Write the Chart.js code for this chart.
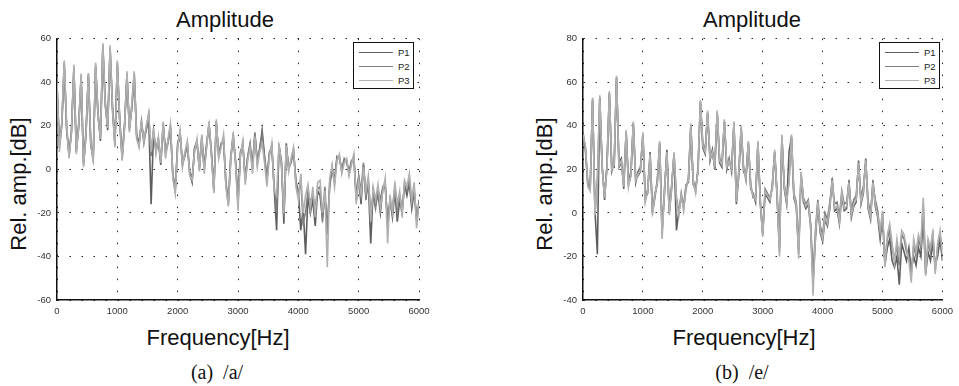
<!DOCTYPE html>
<html>
<head>
<meta charset="utf-8">
<script src="https://cdn.jsdelivr.net/npm/chart.js@4.4.0/dist/chart.umd.min.js"></script>
<style>
  body { margin:0; background:#fff; width:959px; height:386px; position:relative; overflow:hidden;
         font-family:"Liberation Sans", Arial, sans-serif; color:#111; }
  .box { position:absolute; }
  .txt { position:absolute; white-space:nowrap; transform:translate(-50%,-50%); line-height:1; }
  .big { font-size:22px; }
  .ylab { transform:translate(-50%,-50%) rotate(-90deg); }
  .cap { font-family:"Liberation Serif", "Times New Roman", serif; font-size:20px; }
  .leg { position:absolute; border:1.5px solid #111; background:#fff; box-sizing:border-box; width:61px; height:47px; }
  .row { position:absolute; left:5px; height:12px; font-size:9.5px; color:#222; }
  .row i { position:absolute; left:0; top:6px; width:34px; border-top:1.5px solid; }
  .row span { position:absolute; left:39px; top:1px; }
</style>
</head>
<body>

<div class="txt big" style="left:225px; top:20px;">Amplitude</div>
<div class="txt big ylab" style="left:19px; top:184px;">Rel. amp.[dB]</div>
<div class="txt big" style="left:218px; top:338px;">Frequency[Hz]</div>
<div class="txt cap" style="left:217px; top:372px;">(a)&ensp;/a/</div>
<div class="box" style="left:0; top:27px; width:440px; height:295px;"><canvas id="chartA"></canvas></div>
<div class="leg" id="legA" style="left:353px; top:42px;"></div>

<div class="txt big" style="left:752px; top:20px;">Amplitude</div>
<div class="txt big ylab" style="left:545px; top:184px;">Rel. amp.[dB]</div>
<div class="txt big" style="left:744px; top:338px;">Frequency[Hz]</div>
<div class="txt cap" style="left:742px; top:372px;">(b)&ensp;/e/</div>
<div class="box" style="left:526px; top:27px; width:433px; height:295px;"><canvas id="chartE"></canvas></div>
<div class="leg" id="legE" style="left:879px; top:42px;"></div>

<script>
// spectrum samples every 40 Hz, 0..6000 Hz
const STEP_HZ = 40;
const seriesNames = ['P1', 'P2', 'P3'];
const seriesColors = ['#5e5e5e', '#7e7e7e', '#b0b0b0'];
const xTicks = [0, 1000, 2000, 3000, 4000, 5000, 6000];
const yTicksA = [-60, -40, -20, 0, 20, 40, 60];
const yTicksE = [-40, -20, 0, 20, 40, 60, 80];

// vowel /a/
const aP1 = [
  38, 12, 21, 48, 19, 7, 18, 46, 8, 21,
  42, 3, 17, 43, 11, 5, 47, 26, 13, 56,
  31, 18, 55, 29, 12, 48, 23, 6, 21, 43,
  19, 28, 43, 16, 12, 21, 14, 18, 24, -16,
  17, 9, 14, 2, 20, 8, 13, 19, -3, -10,
  11, 16, 2, 7, 11, -2, -6, 10, 13, 0,
  15, 1, 11, 21, 7, -10, 22, 6, 11, 14,
  -7, -16, 5, 16, 3, -14, 7, 12, -5, 5,
  11, 2, 16, 4, 9, 18, 6, -4, 7, 11,
  -9, -28, 11, 3, -25, 12, 0, 4, 9, -6,
  -10, -28, -18, -39, -12, -20, -14, -26, -10, -12,
  -22, -12, -28, -8, 1, -6, 5, 6, -1, 4,
  4, -2, 3, 6, -14, -4, -16, 2, -12, -6,
  -34, -10, -16, -11, -20, -9, -8, -24, -14, -22,
  -10, -24, -14, -20, -7, -12, -6, -18, -10, -22,
  -18
];
const aP2 = [
  39, 10, 20, 49, 18, 6, 17, 47, 9, 19,
  43, 2, 15, 44, 13, 4, 48, 24, 15, 57,
  29, 20, 56, 27, 11, 49, 21, 5, 19, 44,
  18, 29, 44, 15, 11, 22, 12, 19, 25, 6,
  18, 8, 13, 4, 21, 7, 12, 20, -2, -9,
  12, 17, 3, 6, 12, -1, -4, 9, 12, 1,
  14, 0, 12, 20, 8, -9, 21, 7, 12, 13,
  -6, -15, 6, 15, 4, -16, 8, 11, -4, 6,
  12, 0, 17, 3, 10, 16, 5, -5, 8, 10,
  -8, -20, 10, 4, -22, 10, 1, 3, 8, -5,
  -12, -5, -24, -20, -10, -15, -12, -18, -9, -8,
  -24, -8, -30, -6, 0, -5, 6, 5, 0, 5,
  3, -1, 4, 5, -12, -3, -10, 3, -14, -5,
  -20, -12, -18, -9, -14, -8, -6, -26, -15, -18,
  -8, -20, -12, -18, -8, -10, -4, -16, -9, -24,
  -14
];
const aP3 = [
  40, 8, 22, 50, 20, 5, 18, 48, 7, 20,
  44, 1, 16, 44, 12, 3, 49, 25, 14, 58,
  30, 19, 57, 28, 10, 50, 22, 4, 20, 45,
  17, 30, 45, 14, 10, 23, 13, 20, 26, 8,
  19, 7, 15, 3, 22, 5, 14, 21, -4, -11,
  10, 18, 1, 8, 13, -3, -5, 8, 14, -1,
  16, -2, 10, 22, 6, -11, 23, 5, 10, 16,
  -8, -17, 4, 17, 2, -19, 6, 13, -7, 4,
  10, -2, 15, 1, 8, 12, 3, -8, 6, 12,
  -10, -12, 12, 2, -20, 11, -1, 5, 10, -8,
  -14, -2, -20, -12, -7, -18, -8, -22, -6, -5,
  -20, -10, -45, -4, 2, -8, 4, 7, -2, 3,
  5, -3, 2, 7, -16, -5, -12, 1, -10, -3,
  -24, -8, -14, -7, -18, -10, -4, -34, -12, -20,
  -6, -16, -10, -22, -5, -8, -2, -14, -6, -27,
  -16
];

// vowel /e/
const eP1 = [
  37, 29, 13, 12, 52, 1, -19, 53, 22, 6,
  22, 55, 21, 21, 62, 23, 25, 11, 37, 14,
  19, 41, 14, 19, 21, 36, 7, 9, 28, 1,
  7, 15, 32, -8, 9, 29, 1, 13, 27, -8,
  1, 7, 3, 13, 14, 40, 13, 11, 19, 51,
  30, 27, 46, 24, 29, 20, 46, 23, 21, 42,
  20, 25, 19, 41, 4, 17, 39, 19, 17, 32,
  11, 9, 5, 32, 4, -10, 9, 7, 5, 13,
  28, 7, -16, 35, 11, 4, 28, 35, 7, 3,
  -17, 17, 5, 2, 4, -6, -32, -12, 4, -9,
  -13, -3, -6, 2, 16, 1, 2, -5, 8, 1,
  2, 15, -2, 3, 5, 24, 4, 9, 25, 2,
  -3, 15, 3, -2, -12, 0, -24, -16, -12, -22,
  -25, -20, -33, -14, -18, -22, -16, -26, -20, -24,
  -16, -20, -2, -28, -18, -22, -14, -24, -20, -12,
  -22
];
const eP2 = [
  35, 30, 14, 11, 52, 0, 15, 53, 20, 8,
  21, 55, 19, 23, 62, 21, 23, 13, 37, 13,
  17, 41, 16, 17, 19, 36, 6, 11, 26, 0,
  9, 13, 32, -10, 11, 27, 0, 11, 27, 7,
  0, 9, 2, 11, 16, 40, 15, 10, 21, 51,
  32, 29, 46, 26, 27, 22, 46, 25, 23, 42,
  22, 23, 21, 41, 6, 19, 39, 21, 15, 32,
  13, 7, 7, 32, 6, -9, 11, 9, 7, 11,
  28, 9, -18, 35, 13, 6, 15, 35, 9, 5,
  -19, 18, 7, 4, 6, -5, -30, -8, 6, -6,
  -10, 0, -3, 5, 14, 4, 5, -2, 10, 4,
  5, 13, 1, 6, 8, 22, 7, 12, 23, 5,
  0, 13, 6, 1, -10, -2, -22, -12, -8, -16,
  -21, -15, -24, -10, -12, -18, -20, -28, -15, -20,
  -12, -16, 4, -25, -14, -18, -10, -26, -16, -10,
  -17
];
const eP3 = [
  36, 31, 12, 10, 53, -1, 14, 54, 21, 7,
  20, 56, 20, 22, 63, 22, 24, 12, 38, 12,
  18, 42, 15, 18, 20, 37, 5, 10, 27, -1,
  8, 14, 33, -12, 10, 28, -1, 12, 28, 6,
  -1, 8, 1, 12, 15, 41, 14, 9, 20, 52,
  31, 28, 47, 25, 28, 21, 47, 24, 22, 43,
  21, 24, 20, 42, 5, 18, 40, 20, 16, 33,
  12, 8, 6, 33, 5, -11, 10, 8, 6, 12,
  29, 8, -20, 36, 12, 5, 14, 36, 8, 4,
  -21, 19, 6, 3, 5, -7, -38, -10, 5, -8,
  -12, -2, -5, 3, 15, 2, 3, -4, 9, 2,
  3, 14, -1, 4, 6, 23, 5, 10, 24, 3,
  -2, 14, 4, -1, -8, 1, -25, -10, -5, -14,
  -23, -12, -20, -8, -10, -16, -22, -32, -12, -18,
  -10, -14, 7, -29, -12, -16, -8, -28, -14, -8,
  -19
];

function makeLegend(id) {
  const el = document.getElementById(id);
  seriesNames.forEach((name, i) => {
    const row = document.createElement('div');
    row.className = 'row';
    row.style.top = (3 + i * 14) + 'px';
    row.innerHTML = '<i style="border-color:' + seriesColors[i] + '"></i><span>' + name + '</span>';
    el.appendChild(row);
  });
}

function makeChart(id, series, yTicks) {
  const datasets = series.map((vals, i) => ({
    label: seriesNames[i],
    data: vals.map((v, k) => ({ x: k * STEP_HZ, y: v })),
    borderColor: seriesColors[i],
    borderWidth: 1.6,
    pointRadius: 0,
    tension: 0,
    fill: false,
    order: series.length - i
  }));
  const axisStyle = {
    grid: { color: '#222', lineWidth: 1, drawTicks: false },
    border: { display: true, color: '#111', width: 1.5, dash: [1.5, 10.5] },
    ticks: {
      color: '#333', padding: 6, font: { family: 'Liberation Sans', size: 9.5 },
      callback: v => String(v)
    }
  };
  return new Chart(document.getElementById(id), {
    type: 'line',
    data: { datasets: datasets },
    options: {
      responsive: true,
      maintainAspectRatio: false,
      animation: false,
      events: [],
      layout: { padding: { top: 10, right: id === 'chartA' ? 21 : 13, bottom: 0, left: 0 } },
      plugins: { legend: { display: false }, tooltip: { enabled: false } },
      scales: {
        x: Object.assign({}, axisStyle, {
          type: 'linear', min: xTicks[0], max: xTicks[xTicks.length - 1],
          afterBuildTicks: s => { s.ticks = xTicks.map(v => ({ value: v })); },
          afterFit: s => { s.height = 22; }
        }),
        y: Object.assign({}, axisStyle, {
          type: 'linear', min: yTicks[0], max: yTicks[yTicks.length - 1],
          afterBuildTicks: s => { s.ticks = yTicks.map(v => ({ value: v })); },
          afterFit: s => { s.width = 57; }
        })
      }
    }
  });
}

makeChart('chartA', [aP1, aP2, aP3], yTicksA);
makeChart('chartE', [eP1, eP2, eP3], yTicksE);
makeLegend('legA');
makeLegend('legE');
</script>
</body>
</html>
